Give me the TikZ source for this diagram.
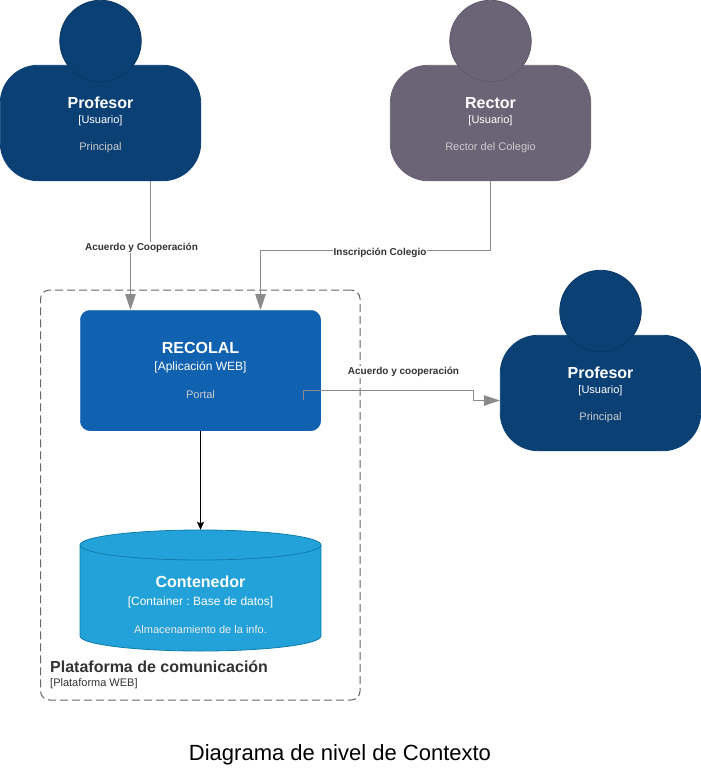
\documentclass[tikz,border=0pt]{standalone}
\usepackage{fontspec}
\setmainfont{Liberation Sans}
\usetikzlibrary{arrows.meta}
\definecolor{navy}{HTML}{0B4075}
\definecolor{navyline}{HTML}{0A3763}
\definecolor{slate}{HTML}{6B6477}
\definecolor{slateline}{HTML}{5F596B}
\definecolor{blueapp}{HTML}{1061B0}
\definecolor{bluedb}{HTML}{23A2D9}
\definecolor{bluedbline}{HTML}{0E7DAD}
\definecolor{conn}{HTML}{8A8A8A}
\definecolor{txtdark}{HTML}{333333}
\frenchspacing
\newcommand{\ttl}[1]{{\fontsize{16}{16}\selectfont\bfseries #1}}
\newcommand{\dsc}[1]{{\color{white!80!black}#1}}
\newcommand{\dscw}[1]{{\color{white!92!black}#1}}
\tikzset{
  x=1pt,y=-1pt,
  headc/.style={circle,draw=#1,line width=.8pt,minimum size=81.5pt,inner sep=0pt},
  bodyc/.style={rectangle,rounded corners=38pt,draw=#1,fill=#1,line width=.8pt,minimum width=200.5pt,minimum height=115.5pt,inner sep=0pt,text=white,align=center,font=\fontsize{11}{15}\selectfont},
  edgec/.style={draw=conn,line width=1pt,-{Triangle[length=16pt,width=10.5pt,fill=conn]}},
  edgelab/.style={fill=white,inner sep=1pt,text=txtdark,font=\fontsize{10}{12}\selectfont\bfseries},
  boxc/.style={rectangle,rounded corners=10pt,draw=blueapp,fill=blueapp,minimum width=240.5pt,minimum height=120.5pt,inner sep=0pt,text=white,align=center,font=\fontsize{12}{16}\selectfont},
}
\begin{document}
\begin{tikzpicture}
\useasboundingbox (0,0) rectangle (701,771);
% boundary
\node[rectangle,draw=black!60,line width=1pt,dash pattern=on 8pt off 4pt,rounded corners=9pt,minimum width=319.5pt,minimum height=410pt,inner sep=0pt] (plat) at (200.3,495) {};
\node[anchor=west,inner sep=0pt,text=txtdark,font=\fontsize{16}{16}\selectfont\bfseries] (platname) at (50,667) {Plataforma de comunicación};
\node[anchor=west,inner sep=0pt,text=txtdark,font=\fontsize{11}{12}\selectfont] (platsub) at (50,684) {[Plataforma WEB]};
% persons
\node[bodyc=navy] (p1) at (100.5,123) {\rule{0pt}{14.5pt}\ttl{Profesor}\\{}[Usuario]\\[12pt]\dsc{Principal}};
\node[headc=navyline,fill=navy] (p1h) at (100.5,41) {};
\node[bodyc=slate] (r) at (490.5,123) {\rule{0pt}{14.5pt}\ttl{Rector}\\{}[Usuario]\\[12pt]\dsc{Rector del Colegio}};
\node[headc=slateline,fill=slate] (rh) at (490.5,41) {};
\node[bodyc=navy] (p2) at (600.5,393) {\rule{0pt}{14.5pt}\ttl{Profesor}\\{}[Usuario]\\[12pt]\dsc{Principal}};
\node[headc=navyline,fill=navy] (p2h) at (600.5,311) {};
% app
\node[boxc] (app) at (200.5,370.5) {\ttl{RECOLAL}\\[1pt]{}[Aplicación WEB]\\[12pt]{\fontsize{11}{16}\selectfont\dsc{Portal}}};
% database
\path[draw=bluedbline,fill=bluedb,line width=.8pt] (80,545) arc[start angle=180,end angle=0,x radius=120.5,y radius=-15] -- (321,636) arc[start angle=0,end angle=-180,x radius=120.5,y radius=-15] -- cycle;
\path[draw=bluedbline,line width=.8pt] (80,545) arc[start angle=180,end angle=360,x radius=120.5,y radius=-15];
\node[inner sep=0pt,minimum width=241pt,minimum height=121pt,text=white,align=center,font=\fontsize{12}{16}\selectfont] (db) at (200.5,590.5) {\mbox{}\\[24pt]\ttl{Contenedor}\\[2pt]{}[Container : Base de datos]\\[12pt]{\fontsize{11}{16}\selectfont\dscw{Almacenamiento de la info.}}};
% connectors
\coordinate (a1) at (150.5,181);
\coordinate (a2) at (130.5,310);
\draw[edgec] (a1) -- (150.5,246) -- (130.5,246) -- (a2);
\coordinate (b1) at (490.5,181);
\coordinate (b2) at (260.5,310);
\draw[edgec] (b1) |- (260.5,250.5) -- (b2);
\coordinate (c1) at (303,400);
\draw[edgec] (c1) -- (303,390.5) -- (473.5,390.5) -- (473.5,400.5) -- (p2.west |- 0,400.5);
\draw[black,line width=1pt,-{Stealth[length=8pt,width=7pt,inset=1.5pt]}] (app.south) -- (db.north);
% labels
\node[edgelab] (l1) at (141.5,247.5) {Acuerdo y Cooperación};
\node[edgelab] (l2) at (380,252.5) {Inscripción Colegio};
\node[edgelab] (l3) at (403.5,372) {Acuerdo y cooperación};
% title
\node[inner sep=0pt,font=\fontsize{22}{24}\selectfont,text=black] (title) at (340,755) {Diagrama de nivel de Contexto};
\end{tikzpicture}
\end{document}
